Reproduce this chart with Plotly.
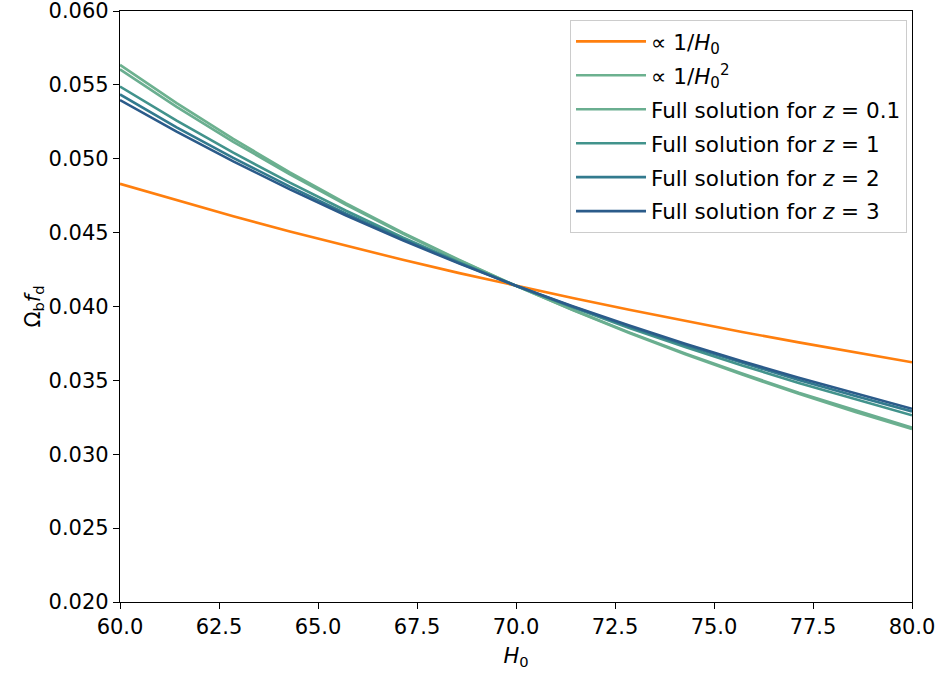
import plotly.graph_objects as go

H0 = [60.0, 61.43, 62.86, 64.29, 65.71, 67.14, 68.57, 70.0, 71.43, 72.86, 74.29, 75.71, 77.14, 78.57, 80.0]

prop_inv_H0 = [0.04830, 0.04718, 0.04610, 0.04508, 0.04410, 0.04316, 0.04226, 0.04140,
               0.04057, 0.03978, 0.03901, 0.03828, 0.03757, 0.03688, 0.03623]
prop_inv_H0sq = [0.05635, 0.05376, 0.05134, 0.04908, 0.04698, 0.04500, 0.04315, 0.04140,
                 0.03976, 0.03821, 0.03675, 0.03539, 0.03409, 0.03286, 0.03170]
full_z01 = [0.05605, 0.05351, 0.05115, 0.04894, 0.04688, 0.04494, 0.04311, 0.04140,
            0.03978, 0.03825, 0.03681, 0.03546, 0.03417, 0.03296, 0.03180]
full_z1 = [0.05489, 0.05258, 0.05041, 0.04838, 0.04648, 0.04468, 0.04299, 0.04140,
           0.03994, 0.03855, 0.03724, 0.03601, 0.03483, 0.03371, 0.03264]
full_z2 = [0.05435, 0.05213, 0.05006, 0.04811, 0.04629, 0.04456, 0.04294, 0.04140,
           0.03998, 0.03864, 0.03737, 0.03618, 0.03503, 0.03394, 0.03290]
full_z3 = [0.05397, 0.05183, 0.04982, 0.04793, 0.04616, 0.04448, 0.04290, 0.04140,
           0.04002, 0.03871, 0.03746, 0.03629, 0.03517, 0.03410, 0.03308]

x_ticks = [60.0, 62.5, 65.0, 67.5, 70.0, 72.5, 75.0, 77.5, 80.0]
x_tick_labels = ["60.0", "62.5", "65.0", "67.5", "70.0", "72.5", "75.0", "77.5", "80.0"]
y_ticks = [0.020, 0.025, 0.030, 0.035, 0.040, 0.045, 0.050, 0.055, 0.060]
y_tick_labels = ["0.020", "0.025", "0.030", "0.035", "0.040", "0.045", "0.050", "0.055", "0.060"]

series = [
    ("\u221d 1/<i>H</i><sub>0</sub>", prop_inv_H0, "#ff7f0e"),
    ("\u221d 1/<i>H</i><sub>0</sub><sup>2</sup>", prop_inv_H0sq, "#6cb18f"),
    ("Full solution for <i>z</i> = 0.1", full_z01, "#6aae90"),
    ("Full solution for <i>z</i> = 1", full_z1, "#42938c"),
    ("Full solution for <i>z</i> = 2", full_z2, "#327a8e"),
    ("Full solution for <i>z</i> = 3", full_z3, "#2b5b8a"),
]

fig = go.Figure()
for i, (name, ys, col) in enumerate(series):
    fig.add_trace(go.Scatter(x=H0, y=ys, mode="lines", name=name,
                             line=dict(color=col, width=2.6),
                             legendgroup=f"g{i}"))

FS = 21
axis_common = dict(showline=True, linecolor="black", linewidth=1.3, mirror=True,
                   ticks="outside", ticklen=6, tickwidth=1.3, tickcolor="black",
                   showgrid=False, zeroline=False, ticklabeloverflow="allow",
                   automargin=False,
                   tickfont=dict(family="DejaVu Sans", size=FS, color="black"))

fig.update_layout(
    width=938, height=673,
    margin=dict(l=120, r=26, t=11, b=71),
    plot_bgcolor="white", paper_bgcolor="white",
    font=dict(family="DejaVu Sans", size=FS, color="black"),
    xaxis=dict(range=[60, 80], tickvals=x_ticks, ticktext=x_tick_labels,
               title=dict(text="<i>H</i><sub>0</sub>", standoff=9,
                          font=dict(size=FS)),
               **axis_common),
    yaxis=dict(range=[0.020, 0.060], tickvals=y_ticks, ticktext=y_tick_labels,
               title=dict(text="\u03a9<sub>b</sub><i>f</i><sub>d</sub>", standoff=2,
                          font=dict(size=FS)),
               **axis_common),
    legend=dict(x=0.9937, y=0.985, xanchor="right", yanchor="top",
                bgcolor="rgba(255,255,255,0.8)", bordercolor="#cccccc", borderwidth=1,
                font=dict(family="DejaVu Sans", size=21.5, color="black"),
                tracegroupgap=3, itemwidth=70),
    showlegend=True,
)

fig.write_html("out.html")
